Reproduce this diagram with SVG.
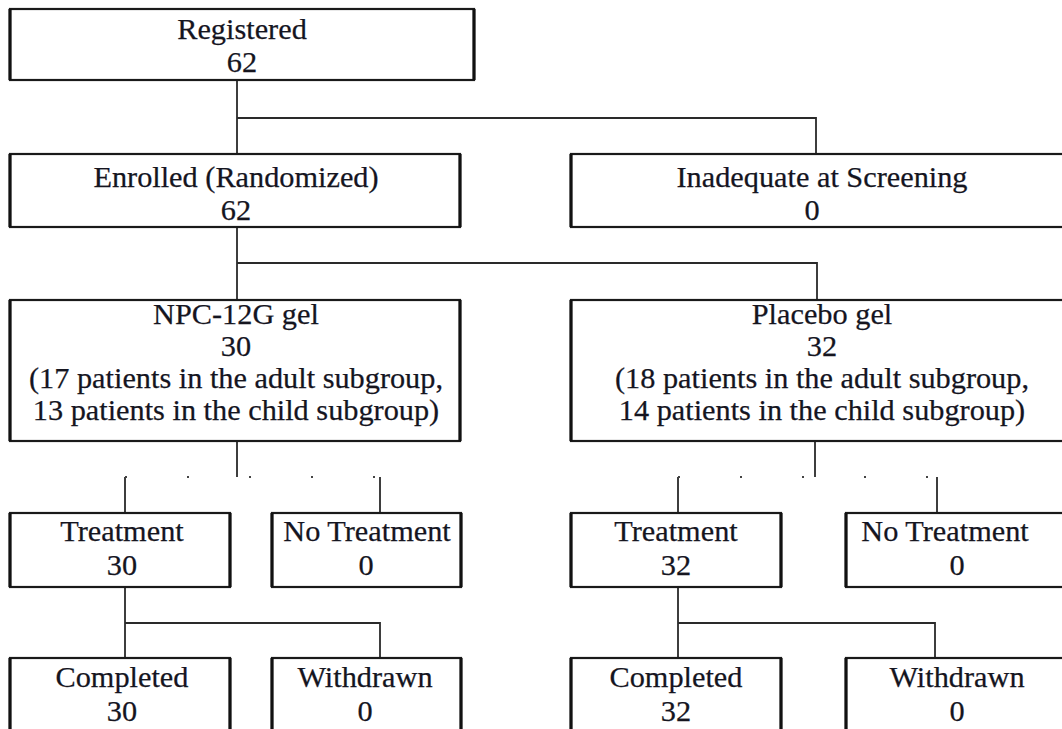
<svg xmlns="http://www.w3.org/2000/svg" width="1062" height="729" viewBox="0 0 1062 729">
<style>
.box{fill:#fff;stroke:#1a1a1a;stroke-width:2.2}
.side{fill:none;stroke:#111;stroke-width:3.2}
.t{font-family:"Liberation Serif","Times New Roman",serif;font-size:30.3px;fill:#15151f;stroke:#15151f;stroke-width:0.25;text-anchor:middle}
.c{fill:none;stroke:#2a2a2a;stroke-width:1.8}
.gap{fill:none;stroke:#444;stroke-width:2;stroke-dasharray:2 60}
</style>
<rect width="1062" height="729" fill="#fff"/>
<g id="connectors">
<path class="c" d="M237 80 V154 M237 118 H816 V153"/>
<path class="c" d="M237 227 V300 M237 263 H817 V300"/>
<path class="c" d="M237 441 V477 M125 477 V513 M380 477 V513"/>
<path class="gap" d="M125 477 H380"/>
<path class="c" d="M815 441 V477 M678 477 V513 M937 477 V513"/>
<path class="gap" d="M678 477 H937"/>
<path class="c" d="M125 587 V658 M125 623 H380 V658"/>
<path class="c" d="M678 587 V658 M678 623 H935 V658"/>
</g>
<g id="registered"><rect class="box" x="10" y="9" width="464" height="71"/><path class="side" d="M10 9 V80 M474 9 V80"/><text class="t" x="242" y="39">Registered</text><text class="t" x="242" y="72">62</text></g>
<g id="enrolled"><rect class="box" x="10" y="154" width="450" height="73"/><path class="side" d="M10 154 V227 M460 154 V227"/><text class="t" x="236" y="187">Enrolled (Randomized)</text><text class="t" x="236" y="220">62</text></g>
<g id="inadequate"><rect class="box" x="571" y="154" width="500" height="73"/><path class="side" d="M571 154 V227"/><text class="t" x="822" y="187">Inadequate at Screening</text><text class="t" x="812" y="220">0</text></g>
<g id="npc"><rect class="box" x="10" y="300" width="450" height="141"/><path class="side" d="M10 300 V441 M460 300 V441"/><text class="t" x="236" y="324">NPC-12G gel</text><text class="t" x="236" y="356">30</text><text class="t" x="236" y="388">(17 patients in the adult subgroup,</text><text class="t" x="236" y="420">13 patients in the child subgroup)</text></g>
<g id="placebo"><rect class="box" x="571" y="300" width="500" height="141"/><path class="side" d="M571 300 V441"/><text class="t" x="822" y="324">Placebo gel</text><text class="t" x="822" y="356">32</text><text class="t" x="822" y="388">(18 patients in the adult subgroup,</text><text class="t" x="822" y="420">14 patients in the child subgroup)</text></g>
<g id="treat1"><rect class="box" x="10" y="513" width="220" height="74"/><path class="side" d="M10 513 V587 M230 513 V587"/><text class="t" x="122" y="541">Treatment</text><text class="t" x="122" y="575">30</text></g>
<g id="notreat1"><rect class="box" x="272" y="513" width="189" height="74"/><path class="side" d="M272 513 V587 M461 513 V587"/><text class="t" x="367" y="541">No Treatment</text><text class="t" x="366" y="575">0</text></g>
<g id="treat2"><rect class="box" x="571" y="513" width="210" height="74"/><path class="side" d="M571 513 V587 M781 513 V587"/><text class="t" x="676" y="541">Treatment</text><text class="t" x="676" y="575">32</text></g>
<g id="notreat2"><rect class="box" x="846" y="513" width="225" height="74"/><path class="side" d="M846 513 V587"/><text class="t" x="945" y="541">No Treatment</text><text class="t" x="957" y="575">0</text></g>
<g id="completed1"><rect class="box" x="10" y="658" width="220" height="80"/><path class="side" d="M10 658 V738 M230 658 V738"/><text class="t" x="122" y="687">Completed</text><text class="t" x="122" y="721">30</text></g>
<g id="withdrawn1"><rect class="box" x="272" y="658" width="189" height="80"/><path class="side" d="M272 658 V738 M461 658 V738"/><text class="t" x="365" y="687">Withdrawn</text><text class="t" x="365" y="721">0</text></g>
<g id="completed2"><rect class="box" x="571" y="658" width="210" height="80"/><path class="side" d="M571 658 V738 M781 658 V738"/><text class="t" x="676" y="687">Completed</text><text class="t" x="676" y="721">32</text></g>
<g id="withdrawn2"><rect class="box" x="846" y="658" width="225" height="80"/><path class="side" d="M846 658 V738"/><text class="t" x="957" y="687">Withdrawn</text><text class="t" x="957" y="721">0</text></g>
</svg>
